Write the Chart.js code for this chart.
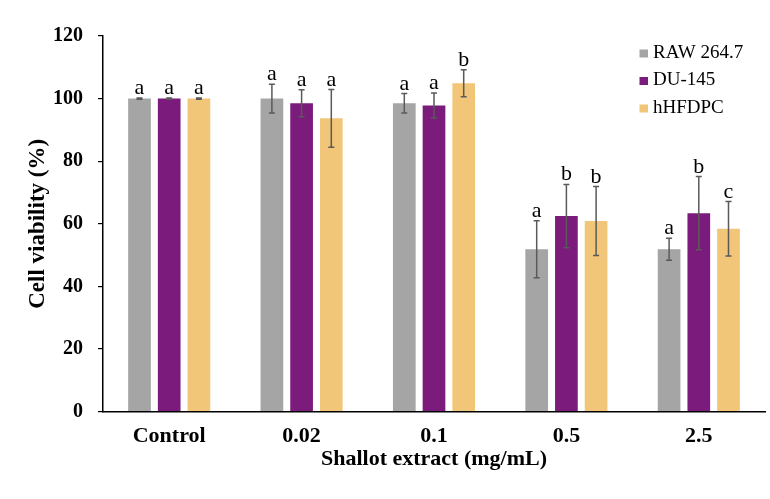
<!DOCTYPE html>
<html>
<head>
<meta charset="utf-8">
<script src="https://cdn.jsdelivr.net/npm/chart.js@4"></script>
<style>
  html, body { margin: 0; padding: 0; background: #fff; }
  #wrap { width: 770px; height: 499px; position: relative; }
</style>
</head>
<body>
<div id="wrap"><canvas id="viabilityChart"></canvas></div>
<script>
// Categories and series
const categories = ['Control', '0.02', '0.1', '0.5', '2.5'];
const seriesNames = ['RAW 264.7', 'DU-145', 'hHFDPC'];

const rawValues = [100, 100, 98.5, 51.9, 51.9];
const rawErrors = [0.2, 4.6, 3.1, 9.1, 3.5];
const duValues = [100, 98.5, 97.8, 62.5, 63.4];
const duErrors = [0.2, 4.3, 4.0, 10.1, 11.7];
const hhValues = [100, 93.7, 104.9, 60.9, 58.4];
const hhErrors = [0.2, 9.2, 4.3, 11.0, 8.7];

// significance letters above each bar
const rawLetters = ['a', 'a', 'a', 'a', 'a'];
const duLetters = ['a', 'a', 'a', 'b', 'b'];
const hhLetters = ['a', 'a', 'b', 'b', 'c'];

const yTicks = [0, 20, 40, 60, 80, 100, 120];

const serif = "'Liberation Serif', 'Times New Roman', serif";
const colors = ['#a5a5a5', '#7b1b7b', '#f2c679'];

// Error bars + letters drawn from the bar elements
const errorBarPlugin = {
    id: 'errorBars',
    afterDatasetsDraw(chart) {
        const ctx = chart.ctx;
        const yScale = chart.scales.y;
        ctx.save();
        chart.data.datasets.forEach((ds, i) => {
            const meta = chart.getDatasetMeta(i);
            meta.data.forEach((bar, j) => {
                const v = ds.data[j];
                const e = ds.errors[j];
                const top = yScale.getPixelForValue(v + e);
                const bottom = yScale.getPixelForValue(v - e);
                ctx.strokeStyle = '#5a5a5a';
                ctx.lineWidth = 1.5;
                ctx.beginPath();
                ctx.moveTo(bar.x, top);
                ctx.lineTo(bar.x, bottom);
                ctx.moveTo(bar.x - 3, top);
                ctx.lineTo(bar.x + 3, top);
                ctx.moveTo(bar.x - 3, bottom);
                ctx.lineTo(bar.x + 3, bottom);
                ctx.stroke();

                ctx.fillStyle = '#000';
                ctx.font = '22px ' + serif;
                ctx.textAlign = 'center';
                ctx.textBaseline = 'alphabetic';
                ctx.fillText(ds.letters[j], bar.x, top - 4);
            });
        });
        ctx.restore();
    },
    afterDraw(chart) {
        // legend in the top right corner of the plot
        const ctx = chart.ctx;
        ctx.save();
        ctx.font = '19px ' + serif;
        ctx.textAlign = 'left';
        ctx.textBaseline = 'middle';
        chart.data.datasets.forEach((ds, i) => {
            const y = 53 + i * 27.5;
            ctx.fillStyle = ds.backgroundColor;
            ctx.fillRect(639.5, y - 3.5, 8.5, 8);
            ctx.fillStyle = '#000';
            ctx.fillText(ds.label, 653, y);
        });
        ctx.restore();
    }
};

const ctx = document.getElementById('viabilityChart').getContext('2d');
new Chart(ctx, {
    type: 'bar',
    data: {
        labels: categories,
        datasets: [
            { label: seriesNames[0], data: rawValues, errors: rawErrors, letters: rawLetters, backgroundColor: colors[0] },
            { label: seriesNames[1], data: duValues, errors: duErrors, letters: duLetters, backgroundColor: colors[1] },
            { label: seriesNames[2], data: hhValues, errors: hhErrors, letters: hhLetters, backgroundColor: colors[2] }
        ]
    },
    options: {
        responsive: true,
        maintainAspectRatio: false,
        animation: false,
        categoryPercentage: 0.673,
        barPercentage: 0.764,
        layout: { padding: { top: 36, right: 5, left: 0, bottom: 0 } },
        plugins: {
            legend: { display: false },
            tooltip: { enabled: false }
        },
        scales: {
            x: {
                grid: { display: false, drawTicks: false },
                border: { color: '#000', width: 1.5 },
                ticks: {
                    color: '#000',
                    padding: 11,
                    font: { family: serif, size: 22, weight: 'bold' }
                },
                title: {
                    display: true,
                    text: 'Shallot extract (mg/mL)',
                    color: '#000',
                    padding: { top: 0, bottom: 26 },
                    font: { family: serif, size: 22, weight: 'bold' }
                },
                afterFit: s => { s.height = 87.3; }
            },
            y: {
                min: 0,
                max: 120,
                afterBuildTicks: s => { s.ticks = yTicks.map(v => ({ value: v })); },
                grid: { drawOnChartArea: false, color: '#000', tickLength: 5, lineWidth: 1.2 },
                border: { color: '#000', width: 1.5 },
                ticks: {
                    color: '#000',
                    padding: 15,
                    font: { family: serif, size: 20, weight: 'bold' }
                },
                title: {
                    display: true,
                    text: 'Cell viability (%)',
                    color: '#000',
                    padding: { top: 24, bottom: 0 },
                    font: { family: serif, size: 23, weight: 'bold' }
                },
                afterFit: s => { s.width = 103; }
            }
        }
    },
    plugins: [errorBarPlugin]
});
</script>
</body>
</html>
